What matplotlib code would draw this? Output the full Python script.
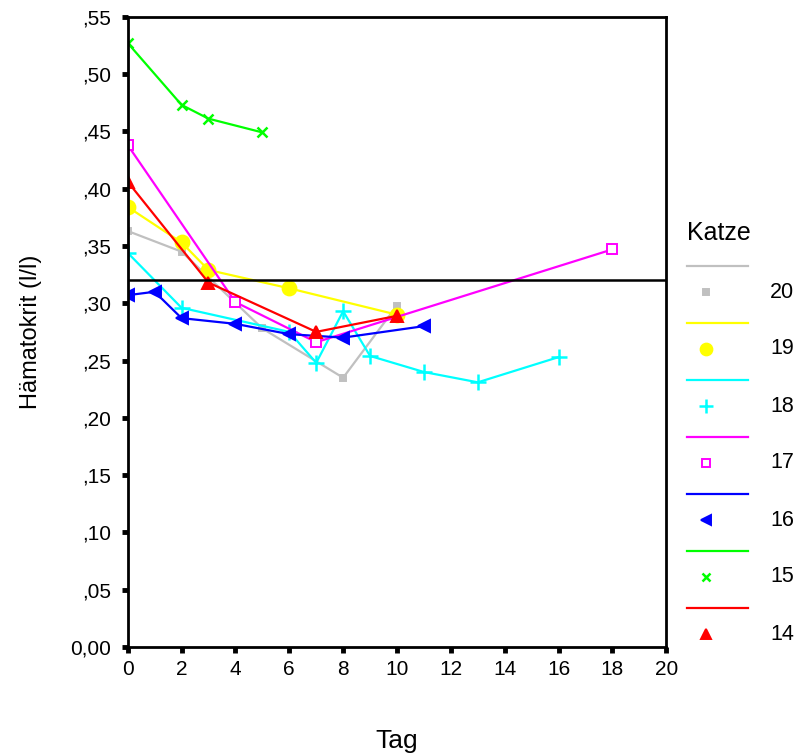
import matplotlib
matplotlib.use('Agg')
import matplotlib.pyplot as plt
from matplotlib.lines import Line2D

plt.rcParams['font.family'] = ['Liberation Sans', 'DejaVu Sans']

# Hämatokrit pro Katze (Tag, Wert)
katze = ['20', '19', '18', '17', '16', '15', '14']

tag20 = [0, 2, 5, 8, 10]
hk20 = [0.363, 0.345, 0.278, 0.235, 0.298]

tag19 = [0, 2, 3, 6, 10]
hk19 = [0.384, 0.353, 0.329, 0.313, 0.290]

tag18 = [0, 2, 6, 7, 8, 9, 11, 13, 16]
hk18 = [0.344, 0.296, 0.275, 0.248, 0.293, 0.254, 0.240, 0.231, 0.253]

tag17 = [0, 4, 7, 18]
hk17 = [0.438, 0.301, 0.266, 0.347]

tag16 = [0, 1, 2, 4, 6, 8, 11]
hk16 = [0.307, 0.310, 0.287, 0.282, 0.273, 0.270, 0.280]

tag15 = [0, 2, 3, 5]
hk15 = [0.527, 0.473, 0.461, 0.449]

tag14 = [0, 3, 7, 10]
hk14 = [0.406, 0.318, 0.275, 0.289]

grenzwert = 0.32

tage = [tag20, tag19, tag18, tag17, tag16, tag15, tag14]
werte = [hk20, hk19, hk18, hk17, hk16, hk15, hk14]
farben = ['#c0c0c0', '#ffff00', '#00ffff', '#ff00ff', '#0000ff', '#00ff00', '#ff0000']
marker = ['s', 'o', '+', 's', '<', 'x', '^']
msize = [5, 10, 12, 7, 8, 7, 8]
mfill = [True, True, True, False, True, True, True]

fig = plt.figure(figsize=(7.98, 7.56), dpi=100)
ax = fig.add_axes([0.160, 0.144, 0.675, 0.834])

for t, w, c, m, s, f in zip(tage, werte, farben, marker, msize, mfill):
    ax.plot(t, w, color=c, lw=1.6, marker=m, markersize=s,
            markerfacecolor=c if f else 'white', markeredgecolor=c,
            markeredgewidth=1.8 if m in '+x' else 1.4)

ax.axhline(grenzwert, color='black', lw=1.8)

ax.set_xlim(0, 20)
ax.set_ylim(0, 0.55)
ax.set_xticks(range(0, 21, 2))
yt = [i * 0.05 for i in range(12)]
ax.set_yticks(yt)
ax.set_yticklabels(['0,00'] + [(',%02d' % round(v * 100)) for v in yt[1:]])
ax.tick_params(direction='out', length=4, width=3.5, labelsize=15)
ax.tick_params(axis='y', pad=8)
ax.tick_params(axis='x', pad=5)
for sp in ax.spines.values():
    sp.set_linewidth(2)

ax.set_xlabel('Tag', fontsize=19, labelpad=36)
ax.set_ylabel('Hämatokrit (l/l)', fontsize=17, labelpad=20)

# Legende
fig.text(687 / 798, 1 - 233 / 756, 'Katze', fontsize=18, va='center', ha='left')
for i, (k, c, m, s, f) in enumerate(zip(katze, farben, marker, msize, mfill)):
    yl = 1 - (266 + i * 57) / 756
    ym = 1 - (292 + i * 57) / 756
    fig.add_artist(Line2D([687 / 798, 748 / 798], [yl, yl], color=c, lw=1.6))
    fig.add_artist(Line2D([706 / 798], [ym], color=c, marker=m, markersize=s * 0.85,
                          markerfacecolor=c if f else 'white', markeredgecolor=c,
                          markeredgewidth=1.8 if m in '+x' else 1.4, lw=0))
    fig.text(770 / 798, ym, k, fontsize=15.5, va='center', ha='left')

fig.savefig('out.png', dpi=100)
